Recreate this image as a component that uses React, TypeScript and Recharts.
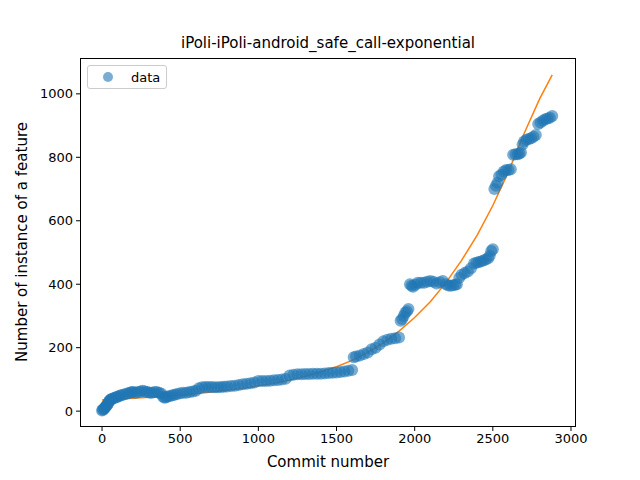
import React from 'react';
import { ComposedChart, Scatter, Line, XAxis, YAxis } from 'recharts';

const commits = [0, 5, 10, 15, 20, 25, 30, 35, 40, 45, 50, 55, 60, 70, 80, 90, 100, 110, 120, 135, 150, 165, 180, 190, 200, 215, 230, 245, 260, 275, 290, 305, 320, 335, 350, 365, 380, 390, 400, 410, 420, 435, 450, 465, 480, 500, 520, 540, 560, 580, 600, 620, 640, 660, 680, 700, 720, 740, 760, 780, 800, 825, 850, 875, 900, 925, 950, 975, 1000, 1025, 1050, 1075, 1100, 1125, 1150, 1175, 1200, 1225, 1250, 1275, 1300, 1325, 1350, 1375, 1400, 1425, 1450, 1475, 1500, 1525, 1550, 1575, 1600, 1610, 1625, 1650, 1675, 1700, 1725, 1750, 1775, 1800, 1825, 1850, 1875, 1900, 1910, 1920, 1930, 1940, 1950, 1960, 1970, 1980, 1990, 2005, 2020, 2040, 2060, 2080, 2100, 2120, 2140, 2160, 2180, 2200, 2215, 2230, 2245, 2260, 2270, 2285, 2300, 2320, 2340, 2360, 2380, 2395, 2410, 2425, 2440, 2455, 2470, 2480, 2490, 2500, 2510, 2520, 2530, 2540, 2555, 2570, 2585, 2600, 2615, 2630, 2645, 2660, 2670, 2680, 2690, 2700, 2715, 2730, 2745, 2760, 2775, 2790, 2805, 2820, 2835, 2850, 2865, 2880];
const counts = [2, 4, 6, 9, 12, 15, 18, 22, 26, 30, 34, 36, 38, 40, 42, 44, 45, 48, 50, 52, 54, 56, 58, 60, 60, 58, 60, 62, 64, 62, 60, 58, 58, 60, 60, 58, 55, 45, 42, 44, 46, 48, 50, 52, 54, 56, 58, 58, 60, 62, 64, 72, 75, 76, 76, 76, 75, 75, 76, 77, 78, 79, 80, 82, 85, 86, 88, 90, 95, 95, 95, 96, 97, 98, 100, 102, 112, 115, 116, 116, 117, 117, 118, 118, 118, 119, 120, 121, 122, 123, 125, 127, 130, 170, 172, 175, 180, 185, 195, 200, 210, 220, 225, 228, 230, 232, 285, 290, 300, 310, 315, 322, 400, 395, 392, 398, 405, 405, 405, 408, 410, 408, 402, 406, 410, 400, 396, 395, 397, 398, 400, 420, 430, 435, 440, 450, 465, 468, 470, 472, 475, 478, 482, 490, 505, 510, 700, 710, 720, 740, 745, 755, 760, 760, 762, 808, 810, 810, 812, 815, 840, 850, 855, 858, 860, 865, 870, 905, 910, 915, 920, 922, 925, 930, 940, 945, 950];

const fitX = [0, 100, 200, 300, 400, 500, 600, 700, 800, 900, 1000, 1100, 1200, 1300, 1400, 1500, 1600, 1700, 1800, 1900, 2000, 2100, 2200, 2300, 2400, 2500, 2600, 2700, 2800, 2880];
const fitY = [35, 38, 41, 44, 47, 51, 55, 60, 66, 72, 80, 88, 98, 110, 124, 140, 160, 185, 215, 252, 295, 345, 405, 475, 555, 648, 755, 875, 985, 1060];

const xTicks = [0, 500, 1000, 1500, 2000, 2500, 3000];
const yTicks = [0, 200, 400, 600, 800, 1000];

const scatterData = commits.map((x, i) => ({ x, y: counts[i] }));
const fitData = fitX.map((x, i) => ({ x, fit: fitY[i] }));

const font = 'DejaVu Sans, sans-serif';

export default function App() {
  document.body.style.margin = '0';
  const tick = { fill: '#000', fontSize: 13, fontFamily: font };
  return (
    <div style={{ position: 'relative', width: 640, height: 480, background: '#fff', fontFamily: font }}>
      <ComposedChart width={640} height={480} margin={{ top: 58, right: 64, bottom: 23, left: 30 }}>
        <XAxis type="number" dataKey="x" domain={[-141, 3032]} ticks={xTicks} allowDataOverflow
          height={30} tick={tick} tickSize={4} tickLine={{ stroke: '#000' }} axisLine={false} tickMargin={3} />
        <YAxis type="number" domain={[-50, 1113]} ticks={yTicks} allowDataOverflow
          width={50} tick={tick} tickSize={4} tickLine={{ stroke: '#000' }} axisLine={false} tickMargin={3} />
        <Scatter data={scatterData} dataKey="y" fill="#1f77b4" fillOpacity={0.6} isAnimationActive={false}
          shape={(p: any) => <circle cx={p.cx} cy={p.cy} r={6} fill="#1f77b4" fillOpacity={0.6} />} />
        <Line data={fitData} dataKey="fit" type="linear" stroke="#ff7f0e" strokeWidth={1.5} dot={false} isAnimationActive={false} />
      </ComposedChart>
      <div style={{ position: 'absolute', left: 80, top: 58, width: 496, height: 369, border: '1px solid #000', boxSizing: 'border-box', pointerEvents: 'none' }} />
      <div style={{ position: 'absolute', left: 80, width: 496, top: 34, textAlign: 'center', fontSize: 15 }}>iPoli-iPoli-android_safe_call-exponential</div>
      <div style={{ position: 'absolute', left: 80, width: 496, top: 453, textAlign: 'center', fontSize: 15 }}>Commit number</div>
      <div style={{ position: 'absolute', left: 22, top: 242, width: 0, height: 0 }}>
        <div style={{ position: 'absolute', transform: 'translate(-50%, -50%) rotate(-90deg)', whiteSpace: 'nowrap', fontSize: 15 }}>Number of instance of a feature</div>
      </div>
      <div style={{ position: 'absolute', left: 87, top: 65, width: 80, height: 24, border: '1px solid #ccc', borderRadius: 3, boxSizing: 'border-box', fontSize: 13, display: 'flex', alignItems: 'center' }}>
        <span style={{ display: 'inline-block', width: 10, height: 10, borderRadius: 5, background: '#1f77b4', opacity: 0.6, marginLeft: 15 }} />
        <span style={{ marginLeft: 18 }}>data</span>
      </div>
    </div>
  );
}
